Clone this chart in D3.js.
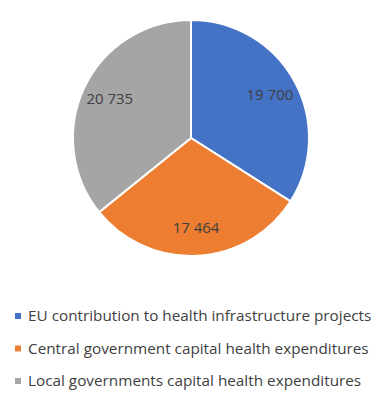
<!DOCTYPE html>
<html>
<head>
<meta charset="utf-8">
<script src="https://cdn.jsdelivr.net/npm/d3@7"></script>
<style>
  body { margin: 0; background: #fff; }
  svg { display: block; }
</style>
</head>
<body>
<div id="chart"></div>
<script>
// Health capital expenditure split – pie with legend below

const categories = [
    'EU contribution to health infrastructure projects',
    'Central government capital health expenditures',
    'Local governments capital health expenditures'
];
const values = [19700, 17464, 20735];
const colors = ['#4472C4', '#ED7D31', '#A5A5A5'];

const width = 383, height = 406;
const cx = 191, cy = 138, radius = 118;

const svg = d3.select('#chart')
    .append('svg')
    .attr('width', width)
    .attr('height', height);

const fmt = v => d3.format(',')(v).replace(',', ' ');

const pie = d3.pie().sort(null).value(d => d.value);
const arcs = pie(categories.map((c, i) => ({ name: c, value: values[i], color: colors[i] })));

const arc = d3.arc().innerRadius(0).outerRadius(radius);
const labelArc = d3.arc().innerRadius(90).outerRadius(90);

const g = svg.append('g').attr('transform', `translate(${cx},${cy})`);

g.selectAll('path')
    .data(arcs)
    .join('path')
    .attr('d', arc)
    .attr('fill', d => d.data.color)
    .attr('stroke', '#fff')
    .attr('stroke-width', 2);

g.selectAll('text')
    .data(arcs)
    .join('text')
    .attr('transform', d => `translate(${labelArc.centroid(d)})`)
    .attr('text-anchor', 'middle')
    .attr('dy', '0.35em')
    .attr('fill', '#404040')
    .attr('font-size', '15px')
    .attr('font-family', '"Open Sans", sans-serif')
    .text(d => fmt(d.data.value));

// Legend
const legend = svg.append('g')
    .selectAll('g')
    .data(categories)
    .join('g')
    .attr('transform', (d, i) => `translate(15, ${316 + i * 32.5})`);

legend.append('rect')
    .attr('x', 0)
    .attr('y', -3)
    .attr('width', 6)
    .attr('height', 6)
    .attr('fill', (d, i) => colors[i]);

legend.append('text')
    .attr('x', 13)
    .attr('dy', '0.35em')
    .attr('fill', '#404040')
    .attr('font-size', '15.3px')
    .attr('font-family', '"Open Sans", sans-serif')
    .text(d => d);
</script>
</body>
</html>
